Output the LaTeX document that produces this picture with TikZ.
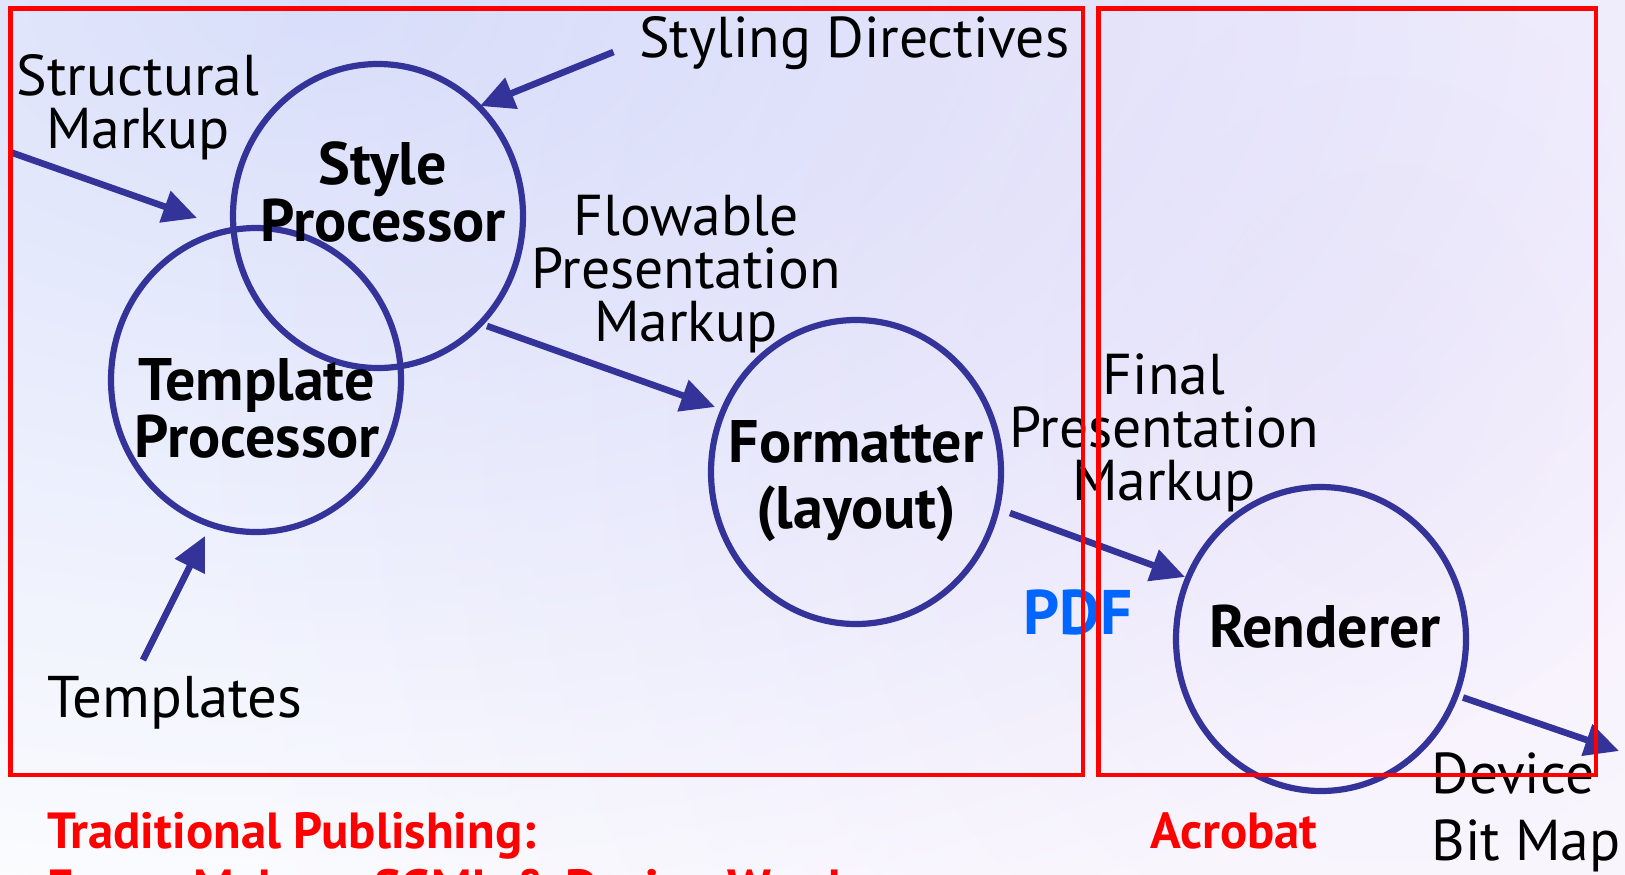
\documentclass[tikz,border=0pt]{standalone}
\usepackage{fontspec}
\setmainfont{PT Sans}
\usetikzlibrary{arrows.meta,shapes.geometric}

\definecolor{procblue}{RGB}{51,51,153}
\definecolor{pdfblue}{RGB}{0,102,255}
\definecolor{boxred}{RGB}{255,0,0}
\definecolor{lav}{RGB}{217,223,250}
\definecolor{pinklav}{RGB}{245,239,252}

\begin{document}
\begin{tikzpicture}[x=0.5pt,y=-0.5pt,
  proc/.style={draw=procblue, line width=3.1pt, ellipse, minimum width=145pt,
    minimum height=152pt, inner sep=0pt},
  flow/.style={draw=procblue, line width=3.3pt, -{Triangle[length=17pt,width=16pt]}},
  frame/.style={draw=boxred, line width=2.2pt},
  lbl/.style={font=\fontsize{28.8}{26.5}\selectfont, align=center, inner sep=0pt, anchor=base},
  proclbl/.style={font=\fontsize{30}{27}\selectfont\bfseries, align=center, inner sep=0pt, anchor=base},
  caption/.style={font=\fontsize{25.4}{28}\selectfont\bfseries, text=boxred, inner sep=0pt, anchor=base west}]

\useasboundingbox (0,0) rectangle (1625,874);

% soft background wash
\begin{scope}
  \clip (0,0) rectangle (1625,874);
  \fill[white] (0,0) rectangle (1625,874);
  \shade[inner color=lav, outer color=white] (320,0) ellipse (1700 and 1000);
  \shade[inner color=pinklav, outer color=white, blend mode=multiply] (1380,380) ellipse (1200 and 1400);
\end{scope}

% processing stages
\node[proc] (style) at (378,216) {};
\node[proc] (tmpl) at (256,380) {};
\node[proc] (fmt) at (856,472) {};
\node[proc] (rend) at (1321,639) {};

% multi-line labels are placed by the baseline of their last line
\node[proclbl] (styleT) at (383,241.5) {Style\\Processor};
\node[proclbl] (tmplT) at (257,457) {Template\\Processor};
\node[proclbl, font=\fontsize{30}{33}\selectfont\bfseries] (fmtT) at (856,528) {Formatter\\(layout)};
\node[proclbl] (rendT) at (1325,647) {Renderer};

% inputs and outputs
\node[lbl] (smL) at (138,148) {Structural\\Markup};
\node[lbl, anchor=base west] (sdL) at (639,57) {Styling Directives};
\node[lbl] (fpL) at (686,341) {Flowable\\Presentation\\Markup};
\node[lbl] (fnL) at (1164,500) {Final\\Presentation\\Markup};
\node[lbl, font=\fontsize{29.4}{26.5}\selectfont] (tpL) at (175,717) {Templates};
\node[lbl, anchor=base west, align=left, font=\fontsize{28.8}{33.5}\selectfont] (dvL) at (1431,860) {Device\\Bit Map};
\node[proclbl, font=\fontsize{31.5}{30}\selectfont\bfseries, text=pdfblue] (pdfL) at (1078,634) {PDF};

% arrow ends
\coordinate (smS) at (10,152);     \coordinate (smE) at (197,218);
\coordinate (sdS) at (613.5,52);   \coordinate (sdE) at (480,106);
\coordinate (tpS) at (143,660);    \coordinate (tpE) at (205,536);
\coordinate (fpS) at (487,326);    \coordinate (fpE) at (715,407);
\coordinate (fnS) at (1010,513);   \coordinate (fnE) at (1185,577);
\coordinate (dvS) at (1463,697.5); \coordinate (dvE) at (1619,751);

\draw[flow] (smS) -- (smE);
\draw[flow] (sdS) -- (sdE);
\draw[flow] (tpS) -- (tpE);
\draw[flow] (fpS) -- (fpE);
\draw[flow] (fnS) -- (fnE);
\draw[flow] (dvS) -- (dvE);

% tool boundaries
\draw[frame] (10.5,8.5) rectangle (1083,775);
\draw[frame] (1098.5,8.5) rectangle (1596,775);

\node[caption] (tradC) at (46.6,848) {Traditional Publishing:};
\node[caption] (acroC) at (1150,848) {Acrobat};
\node[caption] (formC) at (46.6,905) {Forms Makers, SGML \& Design Words};
\end{tikzpicture}
\end{document}
